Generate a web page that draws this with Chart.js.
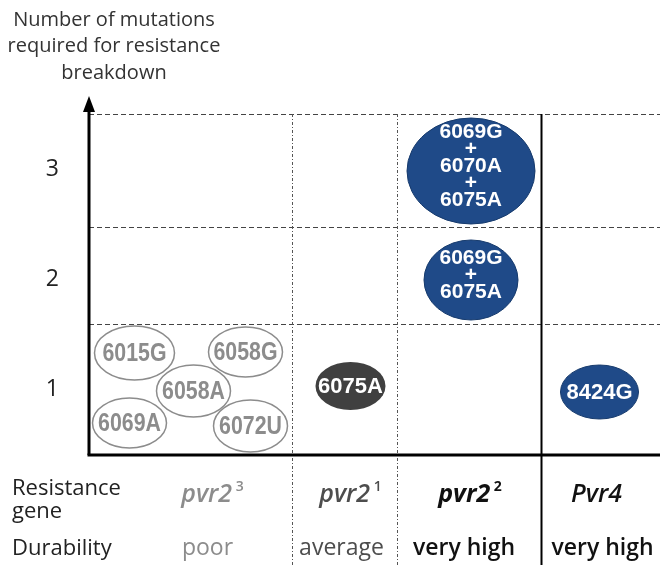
<!DOCTYPE html>
<html>
<head>
<meta charset="utf-8">
<script src="https://cdn.jsdelivr.net/npm/chart.js@4.4.1/dist/chart.umd.min.js"></script>
<style>
  html, body { margin: 0; padding: 0; background: #fff; }
</style>
</head>
<body>
<canvas id="myChart" width="660" height="565"></canvas>
<script>
var genes = ["pvr2", "pvr2", "pvr2", "Pvr4"];
var geneSup = ["3", "1", "2", ""];
var durability = ["poor", "average", "very high", "very high"];

var mutations = ["6015G", "6058G", "6058A", "6069A", "6072U", "6075A",
  "6069G\n+\n6075A", "6069G\n+\n6070A\n+\n6075A", "8424G"];
var mutationGene = [0, 0, 0, 0, 0, 1, 2, 2, 3];
var mutationCount = [1, 1, 1, 1, 1, 1, 2, 3, 1];

var yTicks = [1, 2, 3];
// cell borders on the x (gene columns) and y (mutation rows) axes
var colEdges = [0, 2.03, 3.08, 4.52, 5.71];
var rowEdges = [0.4, 1.59, 2.47, 3.5];

// layout of the ellipses inside their cell (px) and their radii
var bubbleShift = [[-56, -36], [55, -37], [3, 2], [-61, 34], [60, 37], [6, -3], [2, 1], [2, 2], [-1, 3]];
var bubbleSize = [[40, 27], [37, 25], [37, 26], [37, 25], [37, 26], [35, 24], [47, 40], [64, 53], [39, 27]];
var geneColor = ["#8c8c8c", "#4d4d4d", "#111", "#111"];
var geneWeight = ["600", "600", "bold", "600"];
var geneShift = [22, 6, 1, -4];
var durShift = [17, -3, -5, 2];

var points = mutations.map(function (m, i) {
  var g = mutationGene[i];
  return { x: (colEdges[g] + colEdges[g + 1]) / 2, y: mutationCount[i] };
});

var font = "'Open Sans', sans-serif";

var drawing = {
  id: "drawing",
  beforeDatasetsDraw: function (chart) {
    var ctx = chart.ctx, xs = chart.scales.x, ys = chart.scales.y;
    var a = chart.chartArea;
    var top = ys.getPixelForValue(rowEdges[3]);
    ctx.save();
    // horizontal dashed lines
    ctx.strokeStyle = "#444";
    ctx.lineWidth = 1;
    ctx.setLineDash([5, 3]);
    rowEdges.slice(1).forEach(function (v) {
      var y = Math.round(ys.getPixelForValue(v)) + 0.5;
      ctx.beginPath(); ctx.moveTo(a.left, y); ctx.lineTo(a.right, y); ctx.stroke();
    });
    // column dividers
    colEdges.slice(1, 4).forEach(function (v, i) {
      var x = Math.round(xs.getPixelForValue(v)) + 0.5;
      if (i < 2) {
        ctx.strokeStyle = "#555"; ctx.lineWidth = 1; ctx.setLineDash([3, 2, 1, 2]);
      } else {
        ctx.strokeStyle = "#000"; ctx.lineWidth = 2; ctx.setLineDash([]);
      }
      ctx.beginPath(); ctx.moveTo(x, top); ctx.lineTo(x, 565); ctx.stroke();
    });
    // axes
    ctx.setLineDash([]);
    ctx.strokeStyle = "#000";
    ctx.lineWidth = 3;
    ctx.beginPath(); ctx.moveTo(a.left - 1.5, a.bottom); ctx.lineTo(a.right, a.bottom); ctx.stroke();
    ctx.beginPath(); ctx.moveTo(a.left, a.bottom); ctx.lineTo(a.left, 108); ctx.stroke();
    ctx.fillStyle = "#000";
    ctx.beginPath(); ctx.moveTo(a.left, 96); ctx.lineTo(a.left + 6, 112); ctx.lineTo(a.left - 6, 112); ctx.closePath(); ctx.fill();
    ctx.restore();
  },
  afterDatasetsDraw: function (chart) {
    var ctx = chart.ctx;
    var meta = chart.getDatasetMeta(0);
    ctx.save();
    meta.data.forEach(function (pt, i) {
      var cx = pt.x + bubbleShift[i][0], cy = pt.y + bubbleShift[i][1];
      var g = mutationGene[i];
      ctx.beginPath();
      ctx.ellipse(cx, cy, bubbleSize[i][0], bubbleSize[i][1], 0, 0, Math.PI * 2);
      var txt;
      if (g === 0) {
        ctx.strokeStyle = "#8c8c8c"; ctx.lineWidth = 1.5; ctx.stroke();
        txt = "#8c8c8c";
      } else if (g === 1) {
        ctx.fillStyle = "#404040"; ctx.fill();
        txt = "#fff";
      } else {
        ctx.fillStyle = "#1f4a88"; ctx.fill();
        ctx.strokeStyle = "#163a6c"; ctx.lineWidth = 1; ctx.stroke();
        txt = "#fff";
      }
      ctx.fillStyle = txt;
      ctx.textAlign = "center";
      ctx.textBaseline = "middle";
      var lines = mutations[i].split("\n");
      if (lines.length > 1) {
        ctx.font = "bold 21px 'Liberation Sans', Arial, sans-serif";
        lines.forEach(function (l, k) {
          ctx.fillText(l, cx, cy - 4.5 + (k - (lines.length - 1) / 2) * 17);
        });
      } else if (g === 0) {
        ctx.save();
        ctx.translate(cx, cy + 1);
        ctx.scale(0.82, 1);
        ctx.font = "bold 26px 'Liberation Sans', Arial, sans-serif";
        ctx.fillText(lines[0], 0, 0);
        ctx.restore();
      } else {
        ctx.font = "bold 22px 'Liberation Sans', Arial, sans-serif";
        ctx.fillText(lines[0], cx, cy + 1);
      }
    });
    ctx.restore();
  },
  afterDraw: function (chart) {
    var ctx = chart.ctx, xs = chart.scales.x;
    ctx.save();
    ctx.textBaseline = "middle";
    // axis title
    ctx.fillStyle = "#333";
    ctx.textAlign = "center";
    ctx.font = "20px " + font;
    ["Number of mutations", "required for resistance", "breakdown"].forEach(function (l, k) {
      ctx.fillText(l, 114, 20 + k * 26.5);
    });
    // row titles
    ctx.textAlign = "left";
    ctx.fillStyle = "#222";
    ctx.font = "22px " + font;
    ctx.fillText("Resistance", 12, 489);
    ctx.fillText("gene", 12, 512);
    ctx.fillText("Durability", 12, 549);
    // gene and durability labels
    genes.forEach(function (gname, i) {
      var cx = xs.getPixelForValue((colEdges[i] + colEdges[i + 1]) / 2);
      ctx.fillStyle = geneColor[i];
      ctx.font = "italic " + geneWeight[i] + " 25px " + font;
      var w = ctx.measureText(gname).width;
      ctx.font = geneWeight[i] + " 14px " + font;
      var sup = geneSup[i] ? " " + geneSup[i] : "";
      var ws = ctx.measureText(sup).width;
      var x0 = cx + geneShift[i] - (w + ws) / 2;
      ctx.textAlign = "left";
      ctx.font = "italic " + geneWeight[i] + " 25px " + font;
      ctx.fillText(gname, x0, 495);
      ctx.font = geneWeight[i] + " 14px " + font;
      ctx.fillText(sup, x0 + w, 487);
      ctx.textAlign = "center";
      ctx.fillStyle = geneColor[i];
      ctx.font = (i > 1 ? "600 " : "") + "23px " + font;
      ctx.fillText(durability[i], cx + durShift[i], 548);
    });
    ctx.restore();
  }
};

var ctx = document.getElementById("myChart");
var myChart = new Chart(ctx, {
  type: "scatter",
  data: {
    datasets: [
      {
        data: points,
        pointRadius: 0,
        pointHoverRadius: 0,
      },
    ],
  },
  options: {
    responsive: false,
    animation: false,
    events: [],
    layout: { padding: { top: 114, right: 0, bottom: 110, left: 0 } },
    plugins: { legend: { display: false }, tooltip: { enabled: false } },
    scales: {
      x: { type: "linear", min: colEdges[0], max: colEdges[4], display: false },
      y: {
        type: "linear",
        min: rowEdges[0],
        max: rowEdges[3],
        afterBuildTicks: function (s) {
          s.ticks = yTicks.map(function (v) { return { value: v }; });
        },
        afterFit: function (s) { s.width = 89; },
        grid: { display: false, drawTicks: false },
        border: { display: false },
        ticks: {
          padding: 30,
          color: "#222",
          font: { family: "'Open Sans', sans-serif", size: 23 },
        },
      },
    },
  },
  plugins: [drawing],
});
</script>
</body>
</html>
